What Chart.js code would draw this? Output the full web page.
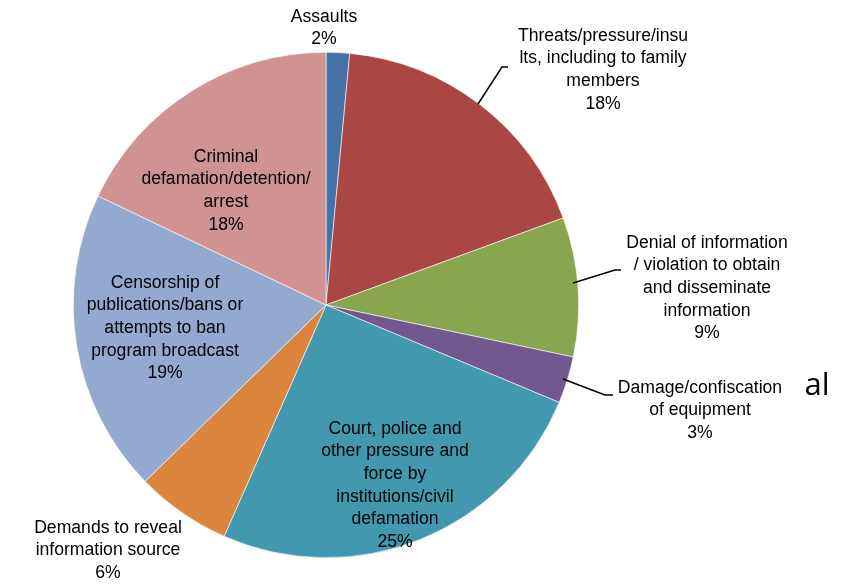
<!DOCTYPE html>
<html><head><meta charset="utf-8">
<script src="https://cdn.jsdelivr.net/npm/chart.js@4/dist/chart.umd.min.js"></script>
<style>html,body{margin:0;padding:0;background:#fff}#wrap{width:845px;height:584px}</style>
</head><body><div id="wrap"><canvas id="c" width="845" height="584"></canvas></div>
<script>
const categories = [
  "Assaults",
  "Threats/pressure/insults, including to family members",
  "Denial of information / violation to obtain and disseminate information",
  "Damage/confiscation of equipment",
  "Court, police and other pressure and force by institutions/civil defamation",
  "Demands to reveal information source",
  "Censorship of publications/bans or attempts to ban program broadcast",
  "Criminal defamation/detention/arrest"
];
const shares = [1.5, 17.9, 8.9, 3.0, 25.3, 6.1, 19.4, 17.9];
const percentLabels = ["2%", "18%", "9%", "3%", "25%", "6%", "19%", "18%"];
const labelLines = [
  ["Assaults"],
  ["Threats/pressure/insu", "lts, including to family", "members"],
  ["Denial of information", "/ violation to obtain", "and disseminate", "information"],
  ["Damage/confiscation", "of equipment"],
  ["Court, police and", "other pressure and", "force by", "institutions/civil", "defamation"],
  ["Demands to reveal", "information source"],
  ["Censorship of", "publications/bans or", "attempts to ban", "program broadcast"],
  ["Criminal", "defamation/detention/", "arrest"]
];
const colors = ["#4572A7","#AA4643","#89A54E","#71588F","#4198AF","#DB843D","#93A9CF","#D19392"];

// label layout: centre of first line (canvas px), and leader line points
const labelLayout = [
  {x:324, y:17},
  {x:603, y:36, leader:[[478,104],[502,67],[508,67]]},
  {x:707, y:243, leader:[[573,283],[615,270],[621,270]]},
  {x:700, y:388, leader:[[563,379],[605,395],[613,395]], extra:{text:"al", x:817, y:386}},
  {x:395, y:429},
  {x:108, y:528},
  {x:165, y:283},
  {x:226, y:157}
];

const labelPlugin = {
  id: 'labels',
  afterDraw(chart) {
    const ctx = chart.ctx;
    ctx.save();
    ctx.fillStyle = '#000';
    ctx.textAlign = 'center';
    ctx.textBaseline = 'middle';
    ctx.font = '17.6px "Liberation Sans", Arial, sans-serif';
    const lh = 22.6;
    labelLayout.forEach((L, i) => {
      const lines = labelLines[i].concat([percentLabels[i]]);
      lines.forEach((t, k) => ctx.fillText(t, L.x, L.y + k * lh));
      if (L.leader) {
        ctx.beginPath();
        ctx.strokeStyle = '#000';
        ctx.lineWidth = 1.5;
        L.leader.forEach((p, k) => k ? ctx.lineTo(p[0], p[1]) : ctx.moveTo(p[0], p[1]));
        ctx.stroke();
      }
      if (L.extra) {
        ctx.save();
        ctx.font = '31px "Open Sans", "DejaVu Sans", sans-serif';
        ctx.fillText(L.extra.text, L.extra.x, L.extra.y);
        ctx.restore();
      }
    });
    ctx.restore();
  }
};

new Chart(document.getElementById('c'), {
  type: 'pie',
  data: {
    labels: categories,
    datasets: [{
      data: shares,
      backgroundColor: colors,
      borderColor: '#ffffff',
      borderWidth: 0.6
    }]
  },
  options: {
    responsive: false,
    animation: false,
    layout: { padding: { top: 52, bottom: 26, left: 73, right: 266 } },
    plugins: { legend: { display: false }, tooltip: { enabled: false } }
  },
  plugins: [labelPlugin]
});
</script></body></html>
